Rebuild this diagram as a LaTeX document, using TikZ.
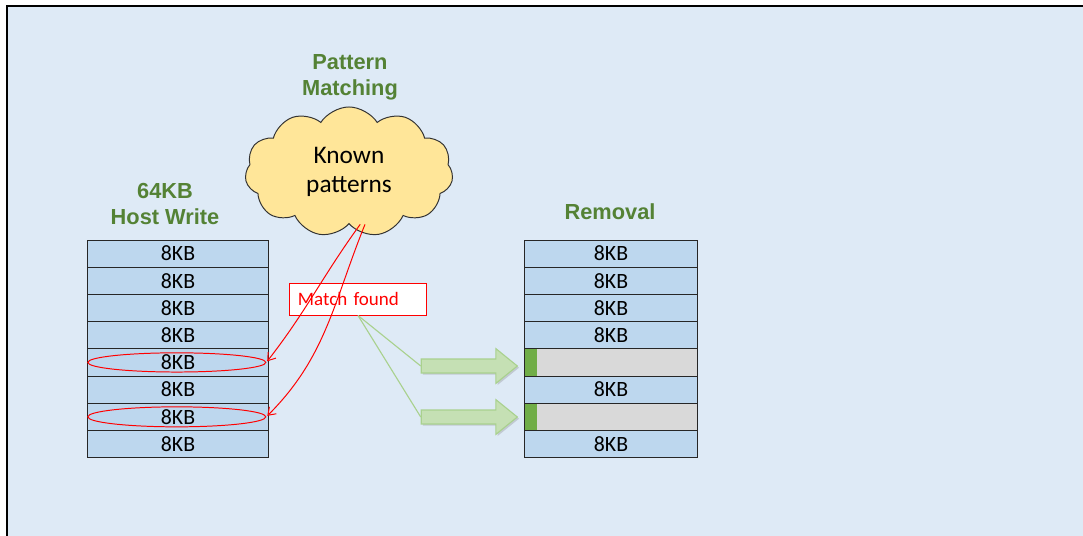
\documentclass[tikz,border=0pt]{standalone}
\usepackage{fontspec}
\setmainfont{Carlito}
\newfontfamily\headfont{Liberation Sans}
\usepackage{tikz}
\usetikzlibrary{arrows.meta}
\usetikzlibrary{positioning}
\usetikzlibrary{shapes.geometric}
\usetikzlibrary{shapes.symbols}
\usetikzlibrary{shapes.arrows}
\usetikzlibrary{shadows}

\definecolor{bgblue}{RGB}{222,234,246}
\definecolor{blockblue}{RGB}{189,215,238}
\definecolor{blockgrey}{RGB}{217,217,217}
\definecolor{headgreen}{RGB}{84,130,53}
\definecolor{markgreen}{RGB}{112,173,71}
\definecolor{cloudyellow}{RGB}{255,230,153}
\definecolor{arrowfill}{RGB}{197,224,180}
\definecolor{arrowline}{RGB}{169,209,142}
\definecolor{matchred}{RGB}{255,0,0}

\tikzset{
  block/.style={rectangle,draw=black!85,line width=0.7pt,fill=blockblue,
    minimum height=0.68cm,inner sep=0pt,outer sep=0pt,
    font=\fontsize{15.5}{17}\selectfont},
  removed/.style={block,fill=blockgrey,
    path picture={\fill[markgreen] (path picture bounding box.north west)
      rectangle ([xshift=0.3cm]path picture bounding box.south west);}},
  heading/.style={align=center,text=headgreen,
    font=\headfont\bfseries\fontsize{15.5}{18.4}\selectfont},
  hit/.style={ellipse,draw=matchred,line width=0.7pt,inner sep=0pt,
    minimum width=4.45cm},
  push/.style={single arrow,draw=arrowline,fill=arrowfill,line width=0.8pt,
    minimum height=2.4cm,inner xsep=0pt,inner ysep=0.16cm,
    single arrow head extend=0.26cm,single arrow tip angle=78,
    drop shadow={shadow xshift=1.2pt,shadow yshift=-1.2pt,opacity=0.3}}
}

\begin{document}
\begin{tikzpicture}[x=0.025cm,y=-0.025cm,>={Straight Barb[length=5pt,width=7pt]}]
    \useasboundingbox (0,0) rectangle (1083,536);
    \fill[bgblue] (7,6) rectangle (1083,536);
    \draw[line width=1.2pt] (7,536) -- (7,6) -- (1083,6);

    % host write
    \node[heading] (hw) at (165,204) {64KB\\Host Write};
    \node[block,minimum width=4.5cm] (b_1) at (178,253.6) {8KB};
    \node[block,minimum width=4.5cm] (b_2) [below=0pt of b_1] {8KB};
    \node[block,minimum width=4.5cm] (b_3) [below=0pt of b_2] {8KB};
    \node[block,minimum width=4.5cm] (b_4) [below=0pt of b_3] {8KB};
    \node[block,minimum width=4.5cm] (b_5) [below=0pt of b_4] {8KB};
    \node[block,minimum width=4.5cm] (b_6) [below=0pt of b_5] {8KB};
    \node[block,minimum width=4.5cm] (b_7) [below=0pt of b_6] {8KB};
    \node[block,minimum width=4.5cm] (b_8) [below=0pt of b_7] {8KB};

    \node[hit,minimum height=0.48cm] (e_1) at ([xshift=-0.03cm]b_5.center) {};
    \node[hit,minimum height=0.5cm] (e_2) at ([xshift=-0.03cm]b_7.center) {};

    % pattern matching
    \node[heading] (pm) at (350,77) {Pattern\\Matching};
    \node[cloud,cloud puffs=11,cloud puff arc=115,aspect=1.6,draw=black!80,
      line width=0.7pt,fill=cloudyellow,minimum width=5.2cm,minimum height=3.25cm,
      align=center,font=\fontsize{18}{21}\selectfont] (cloud) at (349,172)
      {Known\\patterns};

    \node[draw=matchred,fill=white,line width=0.7pt,text=matchred,
      minimum height=0.8cm,text width=3.0cm,inner xsep=0.2cm,align=left,
      font=\fontsize{13.5}{15}\selectfont] (match) at (358,299) {Match found};

    \draw[->,matchred,line width=0.7pt,shorten >=1pt] ([xshift=0.28cm]cloud.south) to [out=234,in=52] (e_1.east);
    \draw[->,matchred,line width=0.7pt,shorten >=1pt] ([xshift=0.4cm]cloud.south) to [out=248,in=45] (e_2.east);

    % removal
    \node[heading] (rm) at (610,212) {Removal};
    \node[block,minimum width=4.3cm] (r_1) at (611,253.6) {8KB};
    \node[block,minimum width=4.3cm] (r_2) [below=0pt of r_1] {8KB};
    \node[block,minimum width=4.3cm] (r_3) [below=0pt of r_2] {8KB};
    \node[block,minimum width=4.3cm] (r_4) [below=0pt of r_3] {8KB};
    \node[removed,minimum width=4.3cm] (r_5) [below=0pt of r_4] {};
    \node[block,minimum width=4.3cm] (r_6) [below=0pt of r_5] {8KB};
    \node[removed,minimum width=4.3cm] (r_7) [below=0pt of r_6] {};
    \node[block,minimum width=4.3cm] (r_8) [below=0pt of r_7] {8KB};

    \node[push] (arr_1) at (465,366) {};
    \node[push] (arr_2) at (465,417) {};

    \draw[arrowline,line width=0.8pt] (match.south) -- (arr_1.tail);
    \draw[arrowline,line width=0.8pt] (match.south) -- (arr_2.tail);
\end{tikzpicture}
\end{document}
